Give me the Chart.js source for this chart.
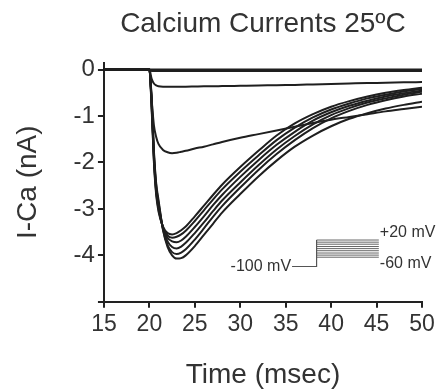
<html><head><meta charset="UTF-8"><title>Calcium Currents 25ºC</title>
<style>
body { margin: 0; background: #fff; }
#wrap { width: 438px; height: 392px; }
</style>
<script src="https://cdn.jsdelivr.net/npm/chart.js"></script>
</head>
<body>
<div id="wrap"><canvas id="caChart" width="438" height="392"></canvas></div>
<script>
// sample times (msec), shared by every current trace
const times = [15, 20, 20.25, 20.5, 20.75, 21, 21.5, 22, 22.5, 23, 23.5, 24, 25, 26, 27, 28, 30, 32, 34, 36, 38, 40, 42, 44, 46, 48, 50];

// current traces (nA)
const zeroA = [0, 0, 0, 0, 0, 0, 0, 0, 0, 0, 0, 0, 0, 0, 0, 0, 0, 0, 0, 0, 0, 0, 0, 0, 0, 0, 0];
const zeroB = [0, 0, -0.03, -0.03, -0.03, -0.03, -0.03, -0.03, -0.03, -0.03, -0.03, -0.03, -0.03, -0.03, -0.03, -0.03, -0.03, -0.03, -0.03, -0.03, -0.03, -0.03, -0.03, -0.03, -0.03, -0.03, -0.03];
const small = [0, 0, -0.2, -0.3, -0.34, -0.36, -0.37, -0.37, -0.37, -0.37, -0.37, -0.37, -0.365, -0.36, -0.36, -0.355, -0.35, -0.345, -0.335, -0.33, -0.32, -0.31, -0.3, -0.29, -0.285, -0.275, -0.27];
const medium = [0, 0, -0.65, -1.2, -1.45, -1.6, -1.73, -1.78, -1.8, -1.79, -1.77, -1.75, -1.7, -1.66, -1.61, -1.56, -1.47, -1.39, -1.31, -1.23, -1.15, -1.08, -1.02, -0.96, -0.9, -0.85, -0.8];
const largeA = [0, 0, -0.85, -2.0, -2.7, -3.05, -3.38, -3.52, -3.55, -3.52, -3.46, -3.38, -3.16, -2.93, -2.7, -2.48, -2.1, -1.75, -1.42, -1.16, -0.96, -0.8, -0.68, -0.58, -0.5, -0.44, -0.39];
const largeB = [0, 0, -0.8, -1.95, -2.65, -3.0, -3.4, -3.57, -3.62, -3.6, -3.55, -3.47, -3.26, -3.03, -2.8, -2.58, -2.2, -1.85, -1.52, -1.25, -1.03, -0.86, -0.73, -0.62, -0.54, -0.47, -0.42];
const largeC = [0, 0, -0.75, -1.9, -2.6, -2.95, -3.4, -3.62, -3.7, -3.72, -3.68, -3.6, -3.39, -3.16, -2.92, -2.7, -2.31, -1.95, -1.62, -1.34, -1.1, -0.92, -0.78, -0.67, -0.58, -0.51, -0.45];
const largeD = [0, 0, -0.7, -1.85, -2.55, -2.9, -3.42, -3.7, -3.82, -3.85, -3.81, -3.73, -3.52, -3.29, -3.05, -2.82, -2.43, -2.06, -1.72, -1.43, -1.18, -0.98, -0.83, -0.71, -0.62, -0.54, -0.48];
const largeE = [0, 0, -0.65, -1.8, -2.5, -2.85, -3.45, -3.78, -3.93, -3.97, -3.94, -3.87, -3.66, -3.42, -3.17, -2.94, -2.54, -2.16, -1.82, -1.52, -1.26, -1.05, -0.89, -0.76, -0.66, -0.58, -0.52];
const largeF = [0, 0, -0.6, -1.75, -2.45, -2.8, -3.45, -3.82, -4.0, -4.07, -4.06, -4.0, -3.8, -3.56, -3.32, -3.08, -2.68, -2.3, -1.96, -1.66, -1.42, -1.22, -1.06, -0.94, -0.84, -0.76, -0.69];
const traces = [zeroA, zeroB, small, medium, largeA, largeB, largeC, largeD, largeE, largeF];

// voltage protocol inset, placed in the plot's own units
const holdTimes = [35.7, 38.4];
const holdLevel = -4.24;
const stepEnd = 45.25;
const stepLevels = [-3.67, -3.716, -3.76, -3.81, -3.855, -3.9, -3.95, -3.995, -4.04];
const insetLabels = ['-100 mV', '+20 mV', '-60 mV'];

const xTicks = [15, 20, 25, 30, 35, 40, 45, 50];
const yTicks = [0, -1, -2, -3, -4];

Chart.defaults.font.family = "'Liberation Sans', Arial, sans-serif";
Chart.defaults.color = '#333';

const datasets = traces.map(vals => ({
    data: vals.map((v, i) => ({ x: times[i], y: v })),
    borderColor: '#1f1f1f',
    borderWidth: 2,
    pointRadius: 0,
    cubicInterpolationMode: 'monotone',
    fill: false
}));

// holding potential + riser
datasets.push({
    data: [
        { x: holdTimes[0], y: holdLevel },
        { x: holdTimes[1], y: holdLevel },
        { x: holdTimes[1], y: stepLevels[0] }
    ],
    borderColor: '#555',
    borderWidth: 1.2,
    pointRadius: 0,
    tension: 0
});
stepLevels.forEach(lv => {
    datasets.push({
        data: [{ x: holdTimes[1], y: lv }, { x: stepEnd, y: lv }],
        borderColor: '#666',
        borderWidth: 1,
        pointRadius: 0,
        tension: 0
    });
});

// inset text next to the protocol
const insetText = {
    id: 'insetText',
    afterDatasetsDraw(chart) {
        const { ctx, scales: { x, y } } = chart;
        ctx.save();
        ctx.font = "16px 'Liberation Sans', Arial, sans-serif";
        ctx.fillStyle = '#333';
        ctx.textBaseline = 'middle';
        ctx.textAlign = 'right';
        ctx.fillText(insetLabels[0], x.getPixelForValue(holdTimes[0]) - 1, y.getPixelForValue(holdLevel));
        ctx.textAlign = 'left';
        ctx.fillText(insetLabels[1], x.getPixelForValue(stepEnd) + 1, y.getPixelForValue(-3.52));
        ctx.fillText(insetLabels[2], x.getPixelForValue(stepEnd) + 1, y.getPixelForValue(-4.17));
        ctx.restore();
    }
};

const axisStyle = {
    grid: { drawOnChartArea: false, drawTicks: true, tickLength: 6, color: '#222', lineWidth: 2 },
    border: { display: true, color: '#222', width: 2 }
};

new Chart(document.getElementById('caChart'), {
    type: 'line',
    data: { datasets: datasets },
    options: {
        responsive: false,
        animation: false,
        layout: { padding: { left: 11, right: 16, top: 0, bottom: 0 } },
        plugins: {
            legend: { display: false },
            tooltip: { enabled: false },
            title: {
                display: true,
                text: 'Calcium Currents 25ºC',
                fullSize: false,
                font: { size: 28, weight: 'normal' },
                color: '#333',
                padding: { top: 7, bottom: 22 }
            }
        },
        scales: {
            x: {
                type: 'linear',
                min: 15,
                max: 50,
                ...axisStyle,
                afterBuildTicks: ax => { ax.ticks = xTicks.map(v => ({ value: v })); },
                ticks: { font: { size: 23 }, color: '#333', padding: 3, maxRotation: 0 },
                title: { display: true, text: 'Time (msec)', font: { size: 28 }, color: '#333', padding: { top: 17, bottom: 0 } }
            },
            y: {
                type: 'linear',
                min: -5,
                max: 0.15,
                ...axisStyle,
                afterBuildTicks: ax => { ax.ticks = [-5].concat(yTicks.slice().reverse()).map(v => ({ value: v })); },
                ticks: {
                    font: { size: 24 },
                    color: '#333',
                    padding: 3,
                    callback: v => (v === -5 ? '' : String(v))
                },
                title: { display: true, text: 'I-Ca (nA)', font: { size: 28 }, color: '#333', padding: { top: 0, bottom: 26 } }
            }
        }
    },
    plugins: [insetText]
});
</script>
</body></html>
